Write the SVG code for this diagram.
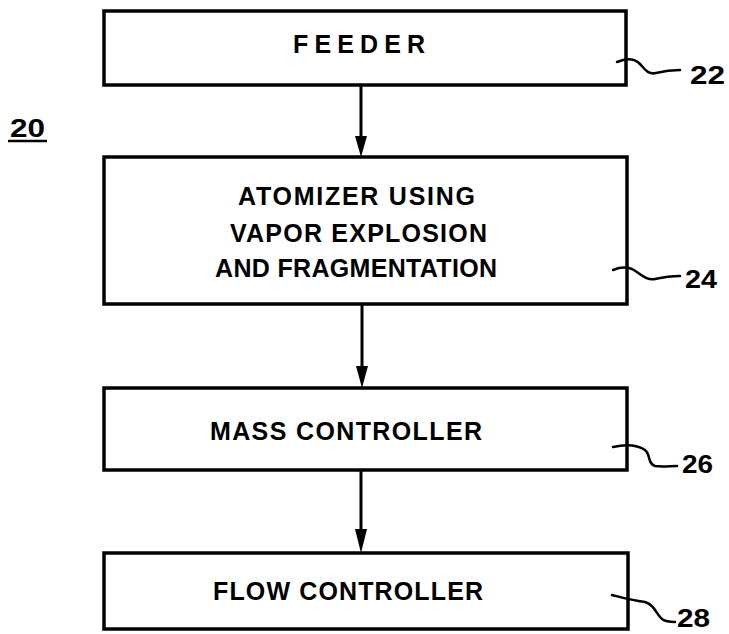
<svg xmlns="http://www.w3.org/2000/svg" width="729" height="634" viewBox="0 0 729 634">
<style>
.box{fill:#fff;stroke:#000;stroke-width:3.5}
.lbl{font-family:"Liberation Sans",Arial,sans-serif;font-weight:bold;font-size:25px;fill:#000}
.num{font-family:"Liberation Sans",Arial,sans-serif;font-weight:bold;font-size:26px;fill:#000}
.lead{fill:none;stroke:#000;stroke-width:2.5;stroke-linecap:round}
.conn{stroke:#000;stroke-width:3}
</style>
<rect width="729" height="634" fill="#fff"/>
<g id="label-20">
<text class="num" x="10" y="137" textLength="35" lengthAdjust="spacingAndGlyphs">20</text>
<line x1="8" y1="141" x2="47" y2="141" stroke="#000" stroke-width="2.5"/>
</g>
<g id="node-22">
<rect class="box" x="104" y="11" width="522" height="74"/>
<text class="lbl" x="293" y="53" textLength="132" lengthAdjust="spacing">FEEDER</text>
<path class="lead" d="M617,62 C624,59 632,57 639,63 C645,69 648,75 656,73 C664,71 670,70 680,70"/>
<text class="num" x="690" y="84" textLength="35" lengthAdjust="spacingAndGlyphs">22</text>
</g>
<g id="node-24">
<rect class="box" x="104" y="157" width="523" height="147"/>
<text class="lbl" x="238" y="205" textLength="237" lengthAdjust="spacing">ATOMIZER USING</text>
<text class="lbl" x="230" y="242" textLength="257" lengthAdjust="spacing">VAPOR EXPLOSION</text>
<text class="lbl" x="215" y="277" textLength="282" lengthAdjust="spacing">AND FRAGMENTATION</text>
<path class="lead" d="M613,270 C618,268 624,266 632,269 C640,273 646,281 655,279 C664,277 670,276 680,276"/>
<text class="num" x="685" y="288" textLength="32" lengthAdjust="spacingAndGlyphs">24</text>
</g>
<g id="node-26">
<rect class="box" x="104" y="388" width="523" height="82"/>
<text class="lbl" x="210" y="440" textLength="272" lengthAdjust="spacing">MASS CONTROLLER</text>
<path class="lead" d="M613,447 C622,445 636,444 645,450 C651,455 647,463 655,466 C662,467 670,466 677,466"/>
<text class="num" x="682" y="473" textLength="31" lengthAdjust="spacingAndGlyphs">26</text>
</g>
<g id="node-28">
<rect class="box" x="104" y="553" width="524" height="76"/>
<text class="lbl" x="213" y="600" textLength="270" lengthAdjust="spacing">FLOW CONTROLLER</text>
<path class="lead" d="M612,595 C620,597 630,600 645,602 C655,605 656,614 662,619 C666,622 670,622 675,622"/>
<text class="num" x="677" y="627" textLength="33" lengthAdjust="spacingAndGlyphs">28</text>
</g>
<g id="connectors">
<line class="conn" x1="361" y1="85" x2="361" y2="140"/>
<polygon points="355,136 367,136 361,157"/>
<line class="conn" x1="362" y1="304" x2="362" y2="370"/>
<polygon points="356,366 368,366 362,388"/>
<line class="conn" x1="361" y1="470" x2="361" y2="532"/>
<polygon points="355,529 367,529 361,553"/>
</g>
</svg>
